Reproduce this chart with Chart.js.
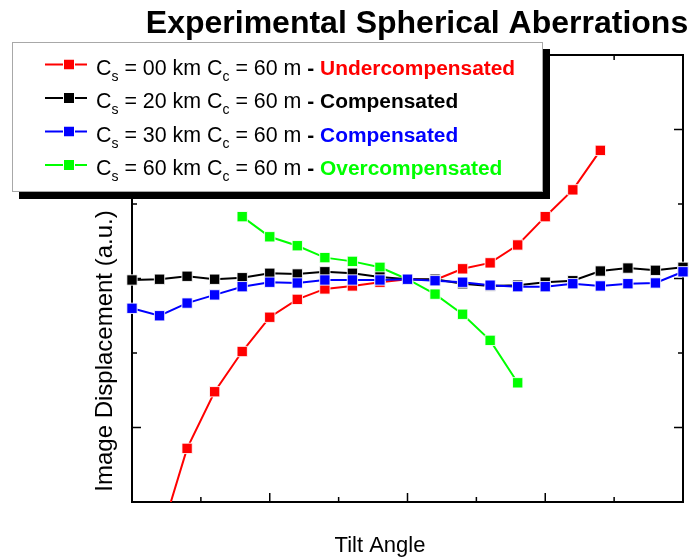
<!DOCTYPE html>
<html>
<head>
<meta charset="utf-8">
<script src="https://cdn.jsdelivr.net/npm/chart.js@4.4.0/dist/chart.umd.min.js"></script>
<style>
  body { margin: 0; background: #fff; }
  #wrap { width: 695px; height: 560px; }
</style>
</head>
<body>
<div id="wrap"><canvas id="myChart" width="695" height="560"></canvas></div>
<script>
const FONT = '"Liberation Sans", Arial, sans-serif';

// tilt angle steps (a.u.)
const tiltAngle = [0, 1, 2, 3, 4, 5, 6, 7, 8, 9, 10, 11, 12, 13, 14, 15, 16, 17, 18, 19, 20, 21];

// image displacement (a.u.), null = not measured
const cs00 = [null, -3.50, -2.28, -1.52, -0.98, -0.52, -0.28, -0.14, -0.10, -0.05, -0.01,
              -0.02, 0.13, 0.21, 0.45, 0.83, 1.19, 1.72, null, null, null, null];
const cs20 = [-0.02, -0.01, 0.03, -0.01, 0.01, 0.07, 0.06, 0.09, 0.07, 0.02, -0.01,
              -0.01, -0.07, -0.10, -0.09, -0.05, -0.03, 0.10, 0.14, 0.11, 0.15, 0.18];
const cs30 = [-0.40, -0.50, -0.33, -0.22, -0.11, -0.05, -0.06, -0.02, -0.02, -0.02, -0.01,
              -0.03, -0.05, -0.09, -0.11, -0.11, -0.07, -0.10, -0.07, -0.06, 0.09, 0.13];
const cs60 = [null, null, null, null, 0.83, 0.56, 0.44, 0.28, 0.23, 0.15, -0.01,
              -0.21, -0.48, -0.83, -1.40, null, null, null, null, null, null, null];

// legend text
const csLabels = ['00', '20', '30', '60'];
const ccLabels = ['60', '60', '60', '60'];
const statusLabels = ['Undercompensated', 'Compensated', 'Compensated', 'Overcompensated'];
const seriesColors = ['#ff0000', '#000000', '#0000ff', '#00ff00'];

// axis ticks (no labels)
const xMajorTicks = [0, 5, 10, 15, 20];
const xMinorTicks = [2.5, 7.5, 12.5, 17.5];
const yMajorTicks = [-2, 0, 2];
const yMinorTicks = [-1, 1];

function toPoints(arr) {
  return tiltAngle.map((t, i) => ({x: t, y: arr[i]})).filter(p => p.y !== null);
}

function makeSet(arr, i, order) {
  return {
    label: 'Cs = ' + csLabels[i] + ' km',
    data: toPoints(arr),
    borderColor: seriesColors[i],
    backgroundColor: seriesColors[i],
    borderWidth: 2,
    pointStyle: 'rect',
    pointRadius: 7.3,
    pointBorderColor: 'rgba(255,255,255,0.85)',
    pointBorderWidth: 1,
    tension: 0,
    order: order,
    clip: false
  };
}

var datasets = [
  makeSet(cs00, 0, 2),
  makeSet(cs20, 1, 1),
  makeSet(cs30, 2, 0),
  makeSet(cs60, 3, 3)
];
// the undercompensated curve runs off the bottom of the frame
datasets[0].clip = {left: false, top: false, right: false, bottom: 0};

// inward tick marks on all four sides of the frame
const frameTicks = {
  id: 'frameTicks',
  beforeDatasetsDraw(chart) {
    const {ctx, chartArea: a, scales} = chart;
    ctx.save();
    ctx.strokeStyle = '#000';
    ctx.lineWidth = 1.5;
    ctx.beginPath();
    function xt(v, len) {
      const px = scales.x.getPixelForValue(v);
      ctx.moveTo(px, a.bottom); ctx.lineTo(px, a.bottom - len);
      ctx.moveTo(px, a.top); ctx.lineTo(px, a.top + len);
    }
    function yt(v, len) {
      const py = scales.y.getPixelForValue(v);
      ctx.moveTo(a.left, py); ctx.lineTo(a.left + len, py);
      ctx.moveTo(a.right, py); ctx.lineTo(a.right - len, py);
    }
    xMajorTicks.forEach(v => xt(v, 9));
    xMinorTicks.forEach(v => xt(v, 5));
    yMajorTicks.forEach(v => yt(v, 9));
    yMinorTicks.forEach(v => yt(v, 5));
    ctx.stroke();
    ctx.restore();
  }
};

// title, axis titles and the boxed legend with its drop shadow
const overlay = {
  id: 'overlay',
  afterDraw(chart) {
    const ctx = chart.ctx;
    ctx.save();
    ctx.fillStyle = '#000';
    ctx.textBaseline = 'alphabetic';

    ctx.font = 'bold 32px ' + FONT;
    ctx.textAlign = 'center';
    ctx.fillText('Experimental Spherical Aberrations', 417, 33);

    ctx.font = '22px ' + FONT;
    ctx.fillText('Tilt Angle', 380, 552);

    ctx.save();
    ctx.font = '24px ' + FONT;
    ctx.translate(112, 351);
    ctx.rotate(-Math.PI / 2);
    ctx.fillText('Image Displacement (a.u.)', 0, 0);
    ctx.restore();

    // legend box
    ctx.fillStyle = '#000';
    ctx.fillRect(19, 49, 531, 150);
    ctx.fillStyle = '#fff';
    ctx.fillRect(12, 42, 531, 150);
    ctx.strokeStyle = '#a8a8a8';
    ctx.lineWidth = 1;
    ctx.strokeRect(12.5, 42.5, 530, 149);

    ctx.textAlign = 'left';
    const reg = '21.4px ' + FONT;
    const sub = '14px ' + FONT;
    const bold = 'bold 20.9px ' + FONT;
    for (var i = 0; i < statusLabels.length; i++) {
      const y = 64.5 + i * 33.5;
      const color = seriesColors[i];
      ctx.strokeStyle = color;
      ctx.lineWidth = 2;
      ctx.beginPath();
      ctx.moveTo(45, y); ctx.lineTo(87, y);
      ctx.stroke();
      ctx.fillStyle = color;
      ctx.fillRect(64, y - 5, 10, 10);
      ctx.strokeStyle = '#fff';
      ctx.lineWidth = 1;
      ctx.strokeRect(63.5, y - 5.5, 11, 11);

      var x = 96;
      const base = y + 10;
      function part(txt, font, col, dy) {
        ctx.font = font;
        ctx.fillStyle = col;
        ctx.fillText(txt, x, base + (dy || 0));
        x += ctx.measureText(txt).width;
      }
      part('C', reg, '#000');
      part('s', sub, '#000', 6);
      part(' = ' + csLabels[i] + ' km C', reg, '#000');
      part('c', sub, '#000', 6);
      part(' = ' + ccLabels[i] + ' m ', reg, '#000');
      part('- ', bold, '#000');
      part(statusLabels[i], bold, color);
    }
    ctx.restore();
  }
};

function axis(position, extra) {
  return Object.assign({
    type: 'linear',
    position: position,
    display: true,
    grid: { display: true, drawOnChartArea: false, drawTicks: false },
    border: { display: true, color: '#000', width: 2 },
    ticks: { display: false }
  }, extra);
}

const config = {
  type: 'line',
  data: { datasets: datasets },
  options: {
    responsive: false,
    animation: false,
    devicePixelRatio: 1,
    layout: { autoPadding: false, padding: { left: 132, right: 12, top: 55, bottom: 58 } },
    plugins: {
      legend: { display: false },
      title: { display: false },
      tooltip: { enabled: false }
    },
    scales: {
      x: axis('bottom', { min: 0, max: 20 }),
      x2: axis('top', { min: 0, max: 20 }),
      y: axis('left', { min: -3, max: 3 }),
      y2: axis('right', { min: -3, max: 3 })
    }
  },
  plugins: [frameTicks, overlay]
};

var myChart = new Chart(document.getElementById('myChart'), config);
</script>
</body>
</html>
